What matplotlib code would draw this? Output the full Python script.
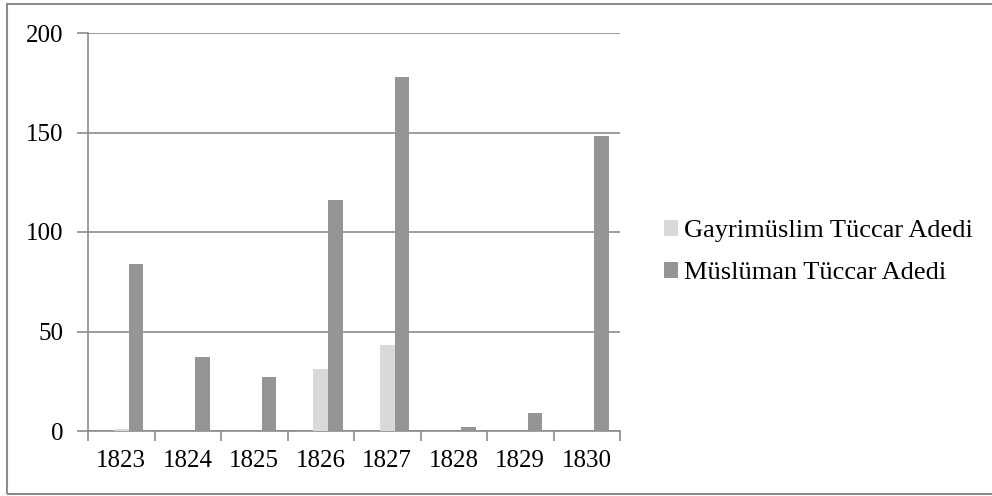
import matplotlib
matplotlib.use("Agg")
import matplotlib.pyplot as plt
from matplotlib.patches import Rectangle
import numpy as np

years = ["1823", "1824", "1825", "1826", "1827", "1828", "1829", "1830"]
gayrimuslim = [1, 0, 0, 31, 43, 0, 0, 0]
muslim = [84, 37, 27, 116, 178, 2, 9, 148]
series_names = ["Gayrimüslim Tüccar Adedi", "Müslüman Tüccar Adedi"]
yticks = [0, 50, 100, 150, 200]

plt.rcParams['font.family'] = ['Liberation Serif', 'DejaVu Serif']

W, H = 992, 496
fig = plt.figure(figsize=(W/100, H/100), dpi=100)

# outer frame
fig.patches.append(Rectangle((7/W, 2/H), 1.2, (492-2)/H, transform=fig.transFigure,
                             fill=False, edgecolor='#8c8c8c', linewidth=1.5))

left, right, top, bottom = 88, 620, 33, 431
ax = fig.add_axes([left/W, 1-bottom/H, (right-left)/W, (bottom-top)/H])

x = np.arange(len(years))
w = 0.222
ax.bar(x, gayrimuslim, width=w, color='#d9d9d9', label=series_names[0], zorder=3)
ax.bar(x + w, muslim, width=w, color='#959595', label=series_names[1], zorder=3)

fs = 18
ax.set_xlim(-0.5, len(years) - 0.5)
ax.set_ylim(0, 200)
ax.set_yticks(yticks)
ax.set_yticklabels([str(v) for v in yticks], fontsize=fs)
ax.set_xticks(x)
ax.set_xticklabels(years, fontsize=fs)
ax.set_xticks(np.arange(len(years) + 1) - 0.5, minor=True)
ax.tick_params(axis='x', which='major', length=0, pad=14)
ax.tick_params(axis='x', which='minor', length=7, width=1.2, color='#8c8c8c')
ax.tick_params(axis='y', which='major', length=8, width=1.2, color='#8c8c8c', pad=10)

ax.grid(axis='y', color='#8c8c8c', linewidth=1.2, zorder=0)
for s in ['top', 'right']:
    ax.spines[s].set_visible(False)
for s in ['left', 'bottom']:
    ax.spines[s].set_color('#8c8c8c')
    ax.spines[s].set_linewidth(1.2)

leg = fig.legend(loc='center left', bbox_to_anchor=(640/W, 1-252/H), frameon=False,
                 fontsize=19, handlelength=0.55, handleheight=0.55, handletextpad=0.2,
                 labelspacing=0.75)

fig.savefig("out.png", dpi=100)
